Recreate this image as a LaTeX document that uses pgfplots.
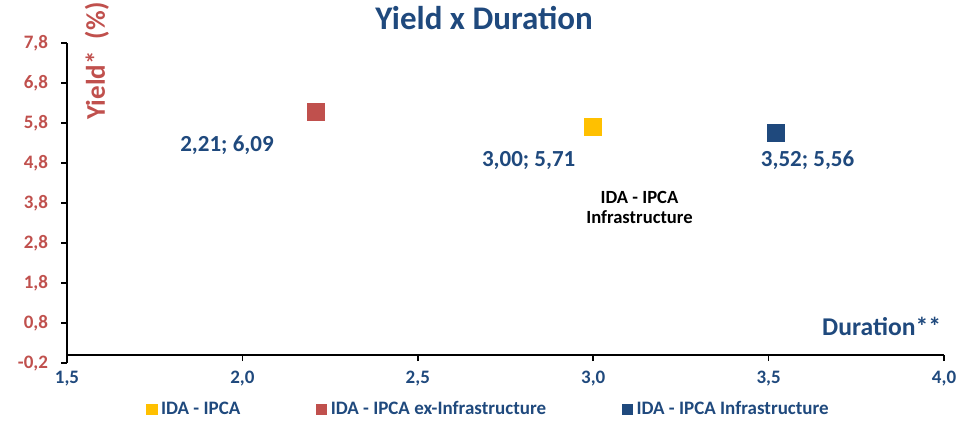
\documentclass[border=0pt]{standalone}
\usepackage{fontspec}
\setmainfont{Carlito}
\usepackage{pgfplots}
\pgfplotsset{compat=1.18}
\definecolor{cRed}{HTML}{C0504D}
\definecolor{cBlue}{HTML}{1F497D}
\definecolor{cYel}{HTML}{FFC000}
\begin{document}
\begin{tikzpicture}
\begin{axis}[
  scale only axis, width=438.5pt, height=160pt,
  xmin=1.5, xmax=4, ymin=-0.2, ymax=7.8,
  axis x line=middle, axis y line=left,
  axis line style={-, line width=1.3pt, black},
  x axis line style={-}, y axis line style={-},
  tick align=outside, major tick length=3pt,
  tick style={black, line width=0.8pt},
  xtick={1.5,2,2.5,3,3.5,4},
  ytick={-0.2,0.8,1.8,2.8,3.8,4.8,5.8,6.8,7.8},
  hide obscured x ticks=false, hide obscured y ticks=false,
  /pgf/number format/use comma,
  /pgf/number format/fixed,
  /pgf/number format/fixed zerofill,
  /pgf/number format/precision=1,
  /pgf/number format/assume math mode=true,
  xticklabel style={font=\fontsize{9.5}{11}\selectfont\bfseries, text=cBlue, yshift=-1.5pt},
  yticklabel style={font=\fontsize{9.5}{11}\selectfont\bfseries, text=cRed, xshift=-3pt},
  clip=false,
  title={Yield x Duration},
  title style={at={(0.4755,1.04)}, anchor=center, font=\fontsize{16.5}{19}\selectfont\bfseries, text=cBlue},
  legend columns=3,
  legend style={at={(0.482,-0.144)}, anchor=center, draw=none, fill=none, inner sep=0pt,
    font=\fontsize{9.5}{11}\selectfont\bfseries, text=cBlue,
    nodes={inner ysep=1pt},
    /tikz/every even column/.append style={column sep=36pt}},
  legend image code/.code={\draw[#1, mark size=2.6pt] plot coordinates {(0pt,0pt)};},
]
\addplot[only marks, mark=square*, mark size=4.2pt, color=cYel] coordinates {(3.00,5.71)};
\addlegendentry{IDA - IPCA}
\addplot[only marks, mark=square*, mark size=4.2pt, color=cRed] coordinates {(2.21,6.09)};
\addlegendentry{IDA - IPCA ex-Infrastructure}
\addplot[only marks, mark=square*, mark size=4.2pt, color=cBlue] coordinates {(3.52,5.56)};
\addlegendentry{IDA - IPCA Infrastructure}

\node[font=\fontsize{11.5}{13}\selectfont\bfseries, text=cBlue] at (axis cs:1.956,5.25) {2,21; 6,09};
\node[font=\fontsize{11.5}{13}\selectfont\bfseries, text=cBlue] at (axis cs:2.816,4.875) {3,00; 5,71};
\node[font=\fontsize{11.5}{13}\selectfont\bfseries, text=cBlue] at (axis cs:3.611,4.875) {3,52; 5,56};
\node[font=\fontsize{9.3}{10}\selectfont\bfseries, text=black, align=center] at (axis cs:3.132,3.7) {IDA - IPCA\\Infrastructure};
\node[font=\fontsize{12.8}{15}\selectfont\bfseries, text=cBlue, anchor=east] at (rel axis cs:1.0046,0.1156) {Duration**};
\node[font=\fontsize{13.5}{15}\selectfont\bfseries, text=cRed, rotate=90, inner sep=0pt] at (rel axis cs:0.0342,0.944) {Yield*~~(\%)};
\path (rel axis cs:-0.0764,1.134) rectangle (rel axis cs:1.041,-0.184);
\end{axis}
\end{tikzpicture}
\end{document}
